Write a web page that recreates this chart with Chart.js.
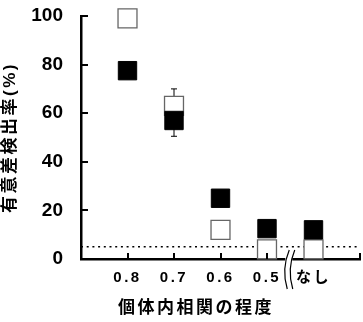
<!DOCTYPE html>
<html>
<head>
<meta charset="utf-8">
<script src="https://cdn.jsdelivr.net/npm/chart.js@4.4.0/dist/chart.umd.min.js"></script>
<style>
  html, body { margin: 0; padding: 0; background: #fff; }
  #wrap { width: 363px; height: 322px; }
</style>
</head>
<body>
<div id="wrap"><canvas id="corrChart"></canvas></div>
<script>
// 個体内相関の程度 と 有意差検出率
const categories = ["0.8", "0.7", "0.6", "0.5", "なし"];
const filledValues = [77.5, 57, 25, 12.5, 12];
const filledErrors = [0, 6.5, 0, 0, 0];
const openValues = [99, 63, 12, 4, 4];
const openErrors = [0, 7, 0, 0, 0];
const yTicks = [0, 20, 40, 60, 80, 100];
const refLevel = 5;
const xTitle = "個体内相関の程度";
const yTitle = "有意差検出率(%)";

const FONT = "'Liberation Sans', Arial, 'Noto Sans CJK JP', sans-serif";

// category i sits at x = i + 1 on a 0..6 axis
const toPoints = vals => vals.map((v, i) => ({ x: i + 1, y: v }));

// wrap a scale draw method so its text gets letter spacing
function spaced(scale, name, spacing) {
  const key = "_spaced_" + name;
  if (scale[key]) return;
  const orig = scale[name];
  scale[name] = function(...args) {
    this.ctx.save();
    this.ctx.letterSpacing = spacing;
    orig.apply(this, args);
    this.ctx.restore();
  };
  scale[key] = true;
}

const decor = {
  id: "decor",
  beforeDraw(chart) {
    spaced(chart.scales.x, "drawLabels", "2.5px");
    spaced(chart.scales.y, "drawTitle", "2.5px");
  },
  beforeDatasetsDraw(chart) {
    // error bars, drawn behind the squares
    const ctx = chart.ctx;
    const xs = chart.scales.x, ys = chart.scales.y;
    ctx.save();
    ctx.strokeStyle = "#000";
    ctx.lineWidth = 1;
    [[filledValues, filledErrors], [openValues, openErrors]].forEach(([vals, errs]) => {
      vals.forEach((v, i) => {
        if (!errs[i]) return;
        const px = xs.getPixelForValue(i + 1);
        const top = ys.getPixelForValue(v + errs[i]);
        const bot = ys.getPixelForValue(v - errs[i]);
        ctx.beginPath();
        ctx.moveTo(px, top); ctx.lineTo(px, bot);
        ctx.moveTo(px - 3, top); ctx.lineTo(px + 3, top);
        ctx.moveTo(px - 3, bot); ctx.lineTo(px + 3, bot);
        ctx.stroke();
      });
    });
    ctx.restore();
  },
  afterDatasetsDraw(chart) {
    const ctx = chart.ctx;
    const xs = chart.scales.x, ys = chart.scales.y;
    const area = chart.chartArea;
    ctx.save();
    ctx.strokeStyle = "#000";
    ctx.lineWidth = 2;
    ctx.beginPath();
    // inward ticks on y axis
    yTicks.forEach(t => {
      const py = Math.round(ys.getPixelForValue(t));
      ctx.moveTo(area.left, py); ctx.lineTo(area.left + 7, py);
    });
    // inward ticks on x axis (categories before the break + right end)
    [1, 2, 3, 4, 6].forEach(v => {
      const px = Math.round(xs.getPixelForValue(v));
      ctx.moveTo(px, area.bottom); ctx.lineTo(px, area.bottom - 6);
    });
    ctx.stroke();

    // axis break between 0.5 and なし
    const bx = xs.getPixelForValue(4.5) - 4;
    ctx.fillStyle = "#fff";
    ctx.fillRect(bx - 1, area.bottom - 3, 7, 6);
    ctx.lineWidth = 1.2;
    ctx.beginPath();
    [0, 5.5].forEach(dx => {
      ctx.moveTo(bx + dx + 3, area.bottom - 9);
      ctx.quadraticCurveTo(bx + dx - 5, area.bottom + 10, bx + dx + 1, area.bottom + 30);
    });
    ctx.stroke();

    // x axis title (sits left of the plot centre in the original)
    ctx.fillStyle = "#000";
    ctx.font = "bold 17px " + FONT;
    ctx.letterSpacing = "2.5px";
    ctx.textAlign = "center";
    ctx.textBaseline = "middle";
    ctx.fillText(xTitle, area.left + 115, area.bottom + 49);
    ctx.restore();
  }
};

new Chart(document.getElementById("corrChart"), {
  type: "scatter",
  data: {
    datasets: [
      {
        label: "filled",
        data: toPoints(filledValues),
        pointStyle: "rect",
        pointRadius: 13,
        pointHoverRadius: 13,
        backgroundColor: "#000",
        borderColor: "#000",
        borderWidth: 1,
        clip: false
      },
      {
        label: "open",
        data: toPoints(openValues),
        pointStyle: "rect",
        pointRadius: 13.4,
        pointHoverRadius: 13.4,
        backgroundColor: "#fff",
        borderColor: "#666",
        borderWidth: 1.3,
        clip: false
      },
      {
        type: "line",
        label: "ref",
        data: [{ x: 0, y: refLevel }, { x: 6, y: refLevel }],
        borderColor: "#000",
        borderWidth: 1.5,
        borderDash: [2, 3.7],
        pointRadius: 0,
        fill: false
      }
    ]
  },
  options: {
    responsive: true,
    maintainAspectRatio: false,
    animation: false,
    layout: { autoPadding: false, padding: { top: 16, right: 3, left: 0, bottom: 0 } },
    plugins: {
      legend: { display: false },
      tooltip: { enabled: false }
    },
    scales: {
      x: {
        type: "linear",
        min: 0,
        max: 6,
        grid: { display: false, drawTicks: false },
        border: { display: true, color: "#000", width: 2.5 },
        ticks: {
          stepSize: 1,
          autoSkip: false,
          maxRotation: 0,
          padding: 10,
          color: "#000",
          font: { family: FONT, size: 15, weight: "bold" },
          callback: v => categories[v - 1] ?? ""
        },
        afterFit: s => { s.height = 63; s.paddingLeft = 0; s.paddingRight = 0; }
      },
      y: {
        min: 0,
        max: 100,
        grid: { display: false, drawTicks: false },
        border: { display: true, color: "#000", width: 2.5 },
        ticks: {
          stepSize: 20,
          padding: 18,
          color: "#000",
          font: { family: FONT, size: 19, weight: "bold" }
        },
        title: {
          display: true,
          text: yTitle,
          color: "#000",
          padding: 0,
          font: { family: FONT, size: 17, weight: "bold" }
        },
        afterFit: s => { s.width = 81; s.paddingTop = 0; s.paddingBottom = 0; }
      }
    }
  },
  plugins: [decor]
});
</script>
</body>
</html>
